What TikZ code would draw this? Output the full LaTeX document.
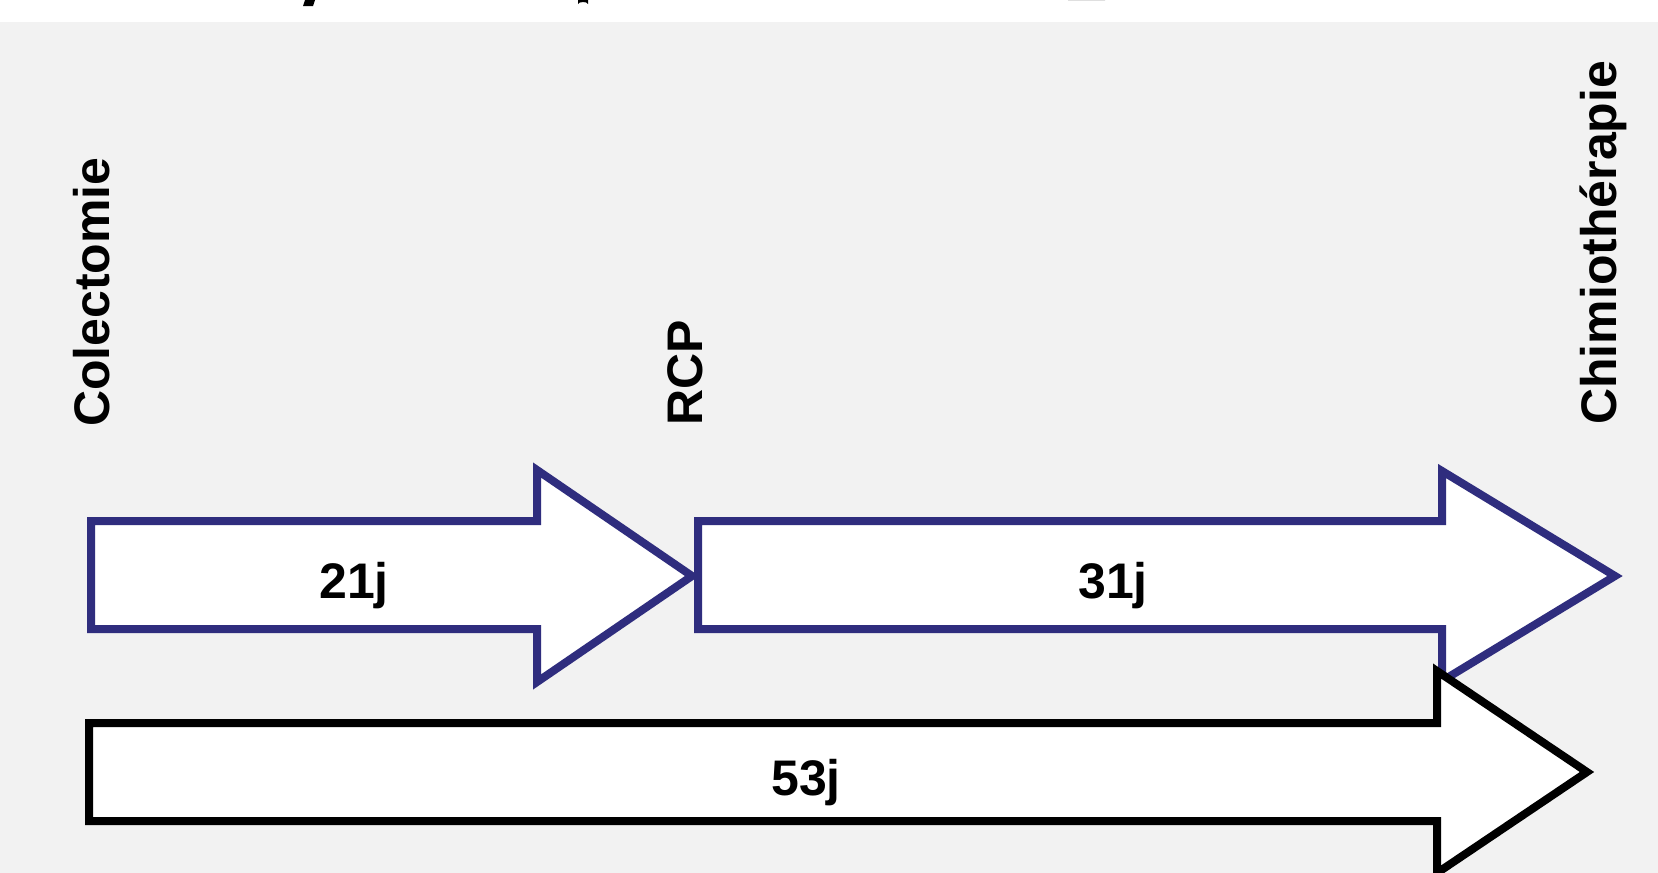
\documentclass[tikz,border=0pt]{standalone}
\usepackage{fontspec}
\setmainfont{Liberation Sans}
\definecolor{navy}{RGB}{47,45,126}
\definecolor{bg}{RGB}{242,242,242}
\begin{document}
\begin{tikzpicture}[x=1pt,y=-1pt,
  arrowshape/.style={fill=white, line width=8pt, line join=miter, miter limit=10},
  navyarrow/.style={arrowshape, draw=navy},
  blackarrow/.style={arrowshape, draw=black},
  lbl/.style={font=\fontsize{50}{60}\selectfont\bfseries, inner sep=0pt, anchor=base},
  vlbl/.style={font=\fontsize{50}{60}\selectfont\bfseries, inner sep=0pt, rotate=90, anchor=base west}]
\useasboundingbox (0,0) rectangle (1658,873);
\fill[white] (0,0) rectangle (1658,22);
\fill[bg] (0,22) rectangle (1658,873);
% fragments of the cut-off title
\fill[black] (305,0) -- (315,0) -- (313,6) -- (303,6) -- cycle;
\fill[black] (578,0) -- (588,0) -- (588,4) arc[start angle=0, end angle=-180, x radius=5, y radius=2] -- cycle;
\fill[black] (1068,0) arc[start angle=180, end angle=360, x radius=18.5, y radius=6] -- cycle;
% arrows
\draw[navyarrow] (91,521) -- (537,521) -- (537,470) -- (692,576) -- (537,682) -- (537,629) -- (91,629) -- cycle;
\draw[navyarrow] (698,521) -- (1442,521) -- (1442,471) -- (1615,576) -- (1442,681) -- (1442,629) -- (698,629) -- cycle;
\draw[blackarrow] (89,723) -- (1437,723) -- (1437,671) -- (1587,772) -- (1437,873) -- (1437,821) -- (89,821) -- cycle;
% labels
\node[lbl] (d21) at (354,598) {21j};
\node[lbl] (d31) at (1113,598) {31j};
\node[lbl] (d53) at (806,795) {53j};
\node[vlbl] (colec) at (109,427) {Colectomie};
\node[vlbl] (rcp) at (702,426) {RCP};
\node[vlbl] (chimio) at (1616,425) {Chimiothérapie};
\end{tikzpicture}
\end{document}
